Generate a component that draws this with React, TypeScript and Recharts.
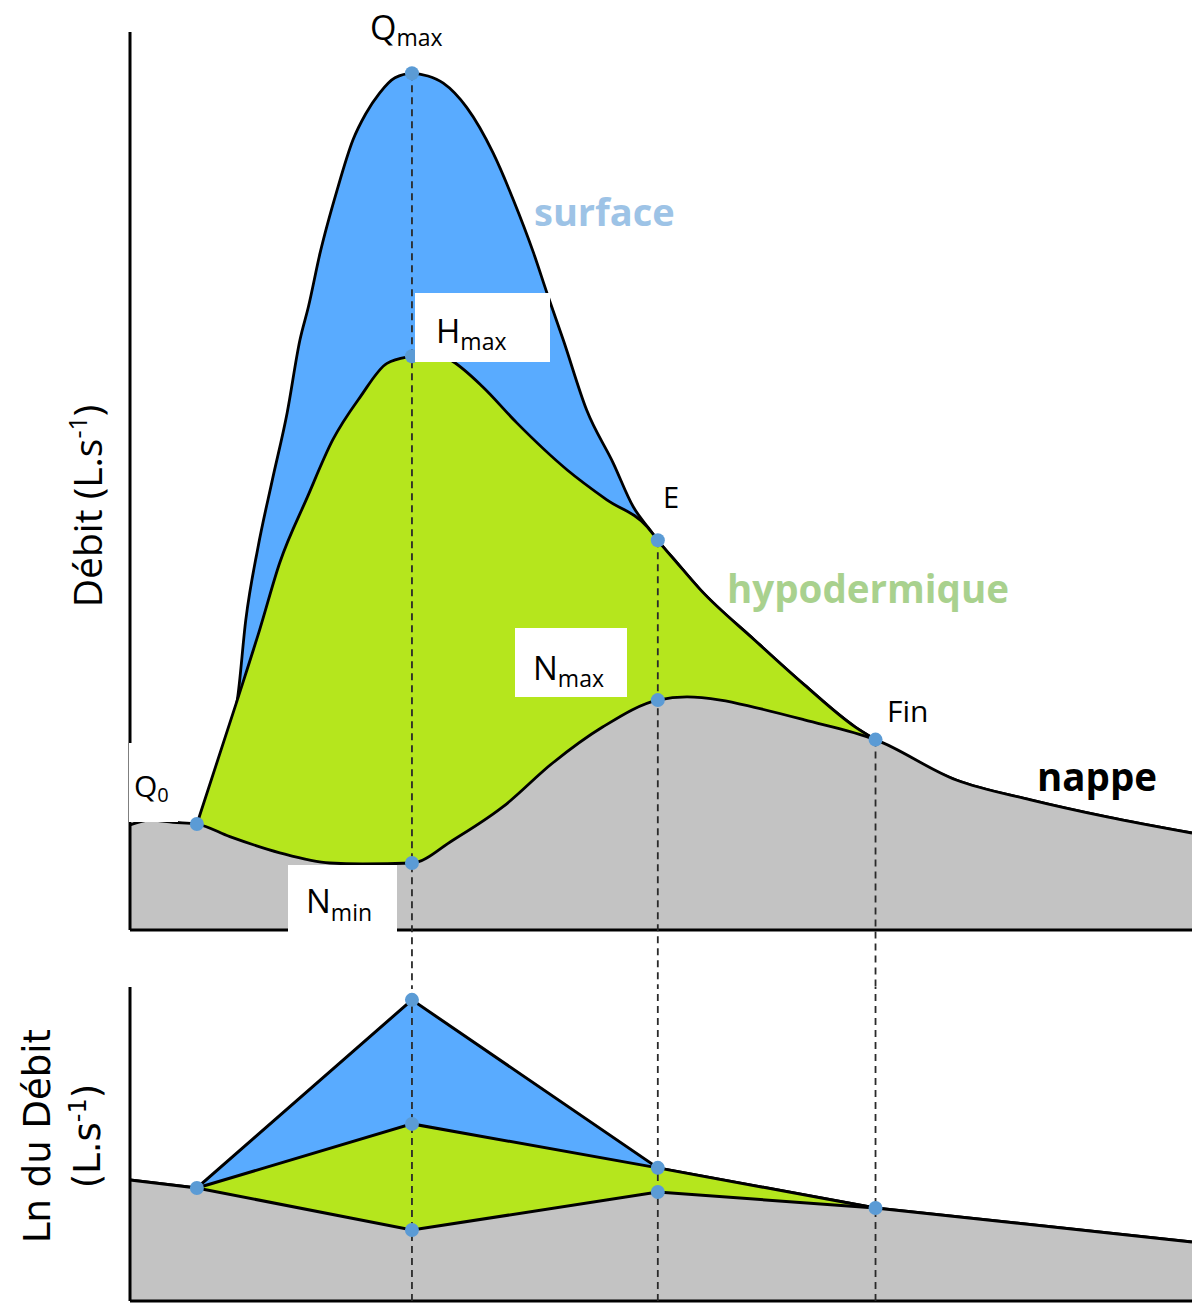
import { ComposedChart, Area, XAxis, YAxis, ReferenceLine, ReferenceDot } from "recharts";

// top panel: discharge (L/s) against time (h)
const totalTime = [6.3, 10.1, 10.9, 12.05, 13.4, 14.8, 16.0, 16.8, 17.9, 19.5, 21.0, 22.2, 23.5, 24.95, 26.55, 28.05, 29.5, 31.7, 34.2, 36.1, 38.0, 39.3, 40.8, 43.0, 45.5, 47.4, 48.8, 49.7, 51.5, 53.7, 58.8, 63.5, 68.3, 70.2, 77.8, 84.8, 92.0, 100];
const totalFlow = [11.8, 25.6, 34.5, 42.6, 50.1, 57.6, 65.7, 69.4, 75.4, 82.4, 88.0, 90.9, 93.2, 94.9, 95.4, 95.1, 94.3, 91.6, 86.5, 81.3, 75.4, 70.8, 65.7, 57.9, 52.0, 47.1, 44.8, 43.4, 40.9, 37.9, 32.3, 27.3, 22.6, 21.2, 16.7, 14.5, 12.6, 10.8];

const hypoTime = [6.3, 10.1, 12.2, 14.1, 16.7, 19.1, 21.7, 24.2, 26.55, 28.7, 30.4, 33.2, 36.4, 41.2, 44.9, 48.7, 49.7, 51.5, 53.7, 58.8, 63.5, 68.3, 70.2];
const hypoFlow = [11.8, 25.6, 33.4, 40.9, 48.2, 54.6, 59.4, 63.1, 63.9, 64.25, 63.3, 60.5, 56.5, 51.2, 47.9, 44.9, 43.4, 40.9, 37.9, 32.3, 27.3, 22.6, 21.2];

const nappeTime = [0, 1.9, 4.05, 6.3, 9.4, 14.1, 18.8, 21.9, 26.55, 30.4, 35.1, 39.8, 44.5, 49.7, 52.45, 55.6, 58.8, 63.5, 70.2, 77.8, 84.8, 92.0, 100];
const nappeFlow = [11.7, 12.25, 12.0, 11.8, 10.4, 8.6, 7.46, 7.35, 7.46, 10.0, 13.7, 18.6, 22.6, 25.6, 25.95, 25.6, 24.8, 23.4, 21.2, 16.7, 14.5, 12.6, 10.8];

// bottom panel: ln of discharge at the same times
const lnTotalTime = [0, 6.3, 26.55, 49.7, 70.2, 100];
const lnTotal = [3.85, 3.6, 9.59, 4.24, 2.96, 1.88];
const lnHypoTime = [6.3, 26.55, 49.7, 70.2];
const lnHypo = [3.6, 5.64, 4.24, 2.96];
const lnNappeTime = [0, 6.3, 26.55, 49.7, 70.2, 100];
const lnNappe = [3.85, 3.6, 2.26, 3.47, 2.96, 1.88];

// key points: Q0, Qmax, Hmax, Nmin, E, Nmax, Fin
const keyTime = [6.3, 26.55, 26.55, 26.55, 49.7, 49.7, 70.2];
const keyFlow = [11.8, 95.4, 63.9, 7.46, 43.4, 25.6, 21.2];
const keyLn = [3.6, 9.59, 5.64, 2.26, 4.24, 3.47, 2.96];

// dashed verticals at Qmax, E and Fin
const markerTime = [26.55, 49.7, 70.2];
const markerFlow = [95.4, 43.4, 21.2];

const BLUE = "#59abff";
const GREEN = "#b5e61d";
const GREY = "#c3c3c3";
const DOT = "#5b9bd5";
const SANS = "'Open Sans', sans-serif";

const rows = (time: number[], q: number[]) => time.map((t, i) => ({ t, q: q[i] }));

function series(total: any[], hypo: any[], nappe: any[], curve: "monotone" | "linear", w: number) {
  return [
    <Area key="s" data={total} dataKey="q" type={curve} fill={BLUE} fillOpacity={1} stroke="#000" strokeWidth={w} dot={false} activeDot={false} isAnimationActive={false} />,
    <Area key="h" data={hypo} dataKey="q" type={curve} fill={GREEN} fillOpacity={1} stroke="#000" strokeWidth={w} dot={false} activeDot={false} isAnimationActive={false} />,
    <Area key="n" data={nappe} dataKey="q" type={curve} fill={GREY} fillOpacity={1} stroke="#000" strokeWidth={w} dot={false} activeDot={false} isAnimationActive={false} />,
  ];
}

function TopPanel() {
  return (
    <ComposedChart width={1192} height={987} margin={{ top: 32, right: 0, bottom: 57, left: 130 }}>
      <XAxis type="number" dataKey="t" domain={[0, 100]} hide />
      <YAxis type="number" domain={[0, 100]} hide />
      {series(rows(totalTime, totalFlow), rows(hypoTime, hypoFlow), rows(nappeTime, nappeFlow), "monotone", 2.8)}
      <ReferenceLine x={0} stroke="#000" strokeWidth={3} />
      <ReferenceLine y={0} stroke="#000" strokeWidth={3} />
      {markerTime.map((t, i) => (
        <ReferenceLine key={i} segment={[{ x: t, y: markerFlow[i] }, { x: t, y: -6.35 }]} ifOverflow="visible" stroke="#2a2a2a" strokeWidth={1.8} strokeDasharray="7 5" />
      ))}
      {keyTime.map((t, i) => (
        <ReferenceDot key={i} x={t} y={keyFlow[i]} r={7} fill={DOT} stroke="none" ifOverflow="visible" />
      ))}
    </ComposedChart>
  );
}

function BottomPanel() {
  return (
    <ComposedChart width={1192} height={317} margin={{ top: 0, right: 0, bottom: 3, left: 130 }}>
      <XAxis type="number" dataKey="t" domain={[0, 100]} hide />
      <YAxis type="number" domain={[0, 10]} hide />
      {series(rows(lnTotalTime, lnTotal), rows(lnHypoTime, lnHypo), rows(lnNappeTime, lnNappe), "linear", 3)}
      <ReferenceLine x={0} stroke="#000" strokeWidth={3} />
      <ReferenceLine y={0} stroke="#000" strokeWidth={3} />
      {markerTime.map((t, i) => (
        <ReferenceLine key={i} x={t} stroke="#2a2a2a" strokeWidth={1.8} strokeDasharray="7 5" />
      ))}
      {keyTime.map((t, i) => (
        <ReferenceDot key={i} x={t} y={keyLn[i]} r={7} fill={DOT} stroke="none" ifOverflow="visible" />
      ))}
    </ComposedChart>
  );
}

function Labels() {
  const sub = { fontSize: 23 };
  return (
    <svg width={1192} height={1304} style={{ position: "absolute", left: 0, top: 0, pointerEvents: "none" }}>
      <g fontFamily={SANS} fill="#000">
        <text x={370} y={40} fontSize={34}>Q<tspan {...sub} dy={6}>max</tspan></text>

        <rect x={415} y={293} width={135} height={69} fill="#fff" />
        <text x={436} y={343} fontSize={33}>H<tspan {...sub} dy={7}>max</tspan></text>

        <rect x={515} y={628} width={112} height={69} fill="#fff" />
        <text x={533} y={680} fontSize={33}>N<tspan {...sub} dy={7}>max</tspan></text>

        <rect x={288} y={865} width={109} height={67} fill="#fff" />
        <text x={306} y={913} fontSize={33}>N<tspan {...sub} dy={8}>min</tspan></text>

        <rect x={129} y={743} width={49} height={79} fill="#fff" />
        <text x={134} y={797} fontSize={30}>Q<tspan fontSize={20} dy={5}>0</tspan></text>

        <text x={663} y={508} fontSize={29}>E</text>
        <text x={887} y={722} fontSize={30}>Fin</text>

        <text x={534} y={226} fontSize={38} fontWeight="bold" fill="#9dc3e6">surface</text>
        <text x={727} y={603} fontSize={38.5} fontWeight="bold" fill="#a9d18e">hypodermique</text>
        <text x={1037} y={791} fontSize={38.5} fontWeight="bold">nappe</text>

        <text transform="translate(102,506) rotate(-90)" textAnchor="middle" fontSize={39}>
          Débit (L.s<tspan fontSize={25} dy={-15}>-1</tspan><tspan dy={15}>)</tspan>
        </text>
      </g>
      <g fontFamily="'DejaVu Sans', sans-serif" fill="#000">
        <text transform="translate(50,1136) rotate(-90)" textAnchor="middle" fontSize={37}>Ln du Débit</text>
        <text transform="translate(100,1136) rotate(-90)" textAnchor="middle" fontSize={37}>
          (L.s<tspan fontSize={24} dy={-14}>-1</tspan><tspan dy={14}>)</tspan>
        </text>
      </g>
    </svg>
  );
}

export default function App() {
  return (
    <div style={{ position: "absolute", left: 0, top: 0, width: 1192, height: 1304, background: "#fff", overflow: "hidden" }}>
      <div style={{ position: "absolute", left: 0, top: 0 }}>
        <TopPanel />
      </div>
      <div style={{ position: "absolute", left: 0, top: 987 }}>
        <BottomPanel />
      </div>
      <Labels />
    </div>
  );
}
